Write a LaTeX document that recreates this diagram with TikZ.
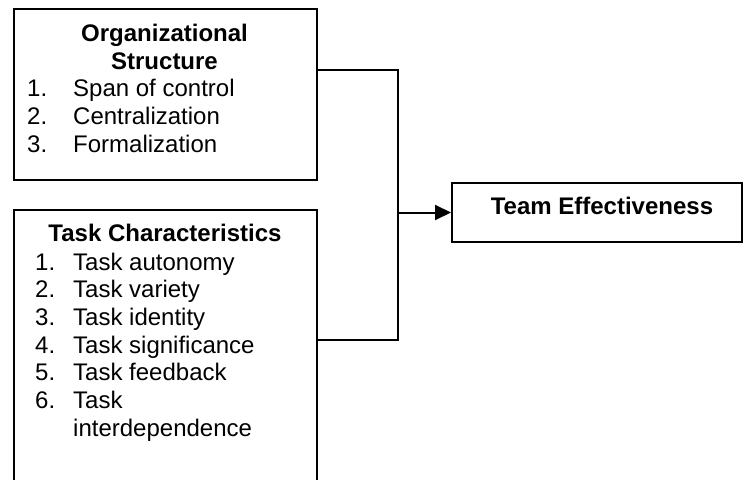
\documentclass[tikz,border=0pt]{standalone}
\usepackage{fontspec}
\setmainfont{Liberation Sans}
\usetikzlibrary{positioning,arrows.meta}

\begin{document}
\begin{tikzpicture}[x=1pt,y=-1pt,
  box/.style={draw,line width=2pt,inner sep=0pt,anchor=north west},
  txt/.style={inner sep=0pt,font=\fontsize{24}{27.7}\selectfont},
  head/.style={inner sep=0pt,font=\fontsize{24}{27.7}\selectfont\bfseries},
  link/.style={line width=2pt}]
\useasboundingbox (0,0) rectangle (743,479);
\clip (0,0) rectangle (743,479);
% the three boxes
\node[box,minimum width=303pt,minimum height=171pt] (org) at (13,8) {};
\node[box,minimum width=303pt,minimum height=330pt] (task) at (13,209) {};
\node[box,minimum width=290pt,minimum height=59pt] (team) at (451,182) {};
% texts
\node[head,anchor=base] (orghead) at (164.5,41.7)
  {\begin{tabular}[t]{@{}c@{}}Organizational\\Structure\end{tabular}};
\node[txt,anchor=base west] (orglist) at (27,96.7)
  {\begin{tabular}[t]{@{}p{46pt}@{}l@{}}1.&Span of control\\2.&Centralization\\3.&Formalization\end{tabular}};
\node[head,anchor=base] (taskhead) at (165,241.7) {Task Characteristics};
\node[txt,anchor=base west] (tasklist) at (35,270)
  {\begin{tabular}[t]{@{}p{38pt}@{}l@{}}1.&Task autonomy\\2.&Task variety\\3.&Task identity\\4.&Task significance\\5.&Task feedback\\6.&Task\\&interdependence\end{tabular}};
\node[head,anchor=base] (teamhead) at (602,214) {Team Effectiveness};
% connectors
\coordinate (j1) at (398,70);
\coordinate (j2) at (398,340);
\draw[link] (org.east |- j1) -- (j1) -- (j2) -- (task.east |- j2);
\draw[link,-{Triangle[length=16pt,width=15pt]}] (j1 |- team.west) -- (team.west);
\end{tikzpicture}
\end{document}
